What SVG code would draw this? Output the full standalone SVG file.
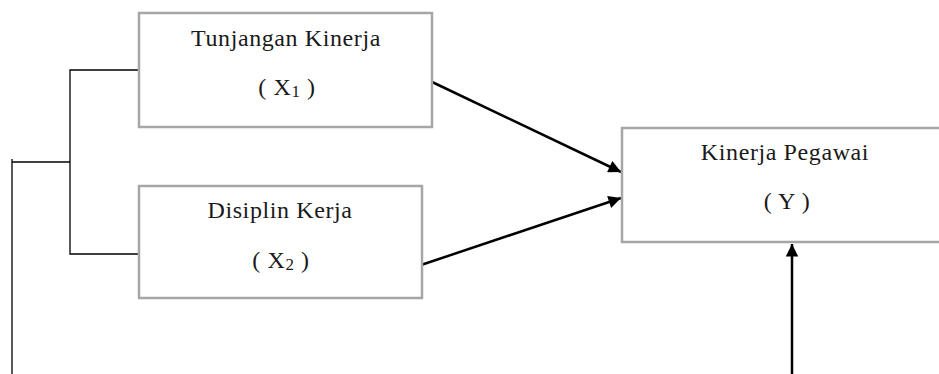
<svg xmlns="http://www.w3.org/2000/svg" width="939" height="374" viewBox="0 0 939 374">
<style>
.box{fill:#fff;stroke:#a6a6a6;stroke-width:2.5}
.t{font-family:"Liberation Serif","Times New Roman",serif;font-size:24px;letter-spacing:0.6px;fill:#1a1a1a;text-anchor:middle}
.sub{font-size:17px}
.thin{stroke:#000;stroke-width:1.3;fill:none}
.arr{stroke:#000;stroke-width:2.5;fill:none;marker-end:url(#ah)}
</style>
<defs>
<marker id="ah" viewBox="0 0 10 10" refX="10" refY="5" markerWidth="5.5" markerHeight="5" markerUnits="strokeWidth" orient="auto">
<path d="M0,0 L10,5 L0,10 z" fill="#000"/>
</marker>
</defs>
<rect width="939" height="374" fill="#fff"/>
<g id="connectors">
<polyline class="thin" points="139,70 70,70 70,254 139,254"/>
<polyline class="thin" points="12,374 12,159"/>
<line class="thin" x1="12" y1="162" x2="70" y2="162"/>
<line class="arr" x1="430" y1="81" x2="621" y2="172"/>
<line class="arr" x1="421" y1="265" x2="621" y2="198"/>
<line class="arr" x1="792" y1="374" x2="792" y2="244"/>
</g>
<g id="x1">
<rect class="box" x="139" y="13" width="293" height="114"/>
<text class="t" x="286" y="46">Tunjangan Kinerja</text>
<text class="t" x="287" y="95">( X<tspan class="sub" dy="2">1</tspan><tspan dy="-2"> )</tspan></text>
</g>
<g id="x2">
<rect class="box" x="139" y="186" width="283" height="112"/>
<text class="t" x="280" y="218">Disiplin Kerja</text>
<text class="t" x="281" y="268">( X<tspan class="sub" dy="2">2</tspan><tspan dy="-2"> )</tspan></text>
</g>
<g id="y">
<rect class="box" x="622" y="128" width="330" height="114"/>
<text class="t" x="785" y="160">Kinerja Pegawai</text>
<text class="t" x="787" y="209">( Y )</text>
</g>
</svg>
